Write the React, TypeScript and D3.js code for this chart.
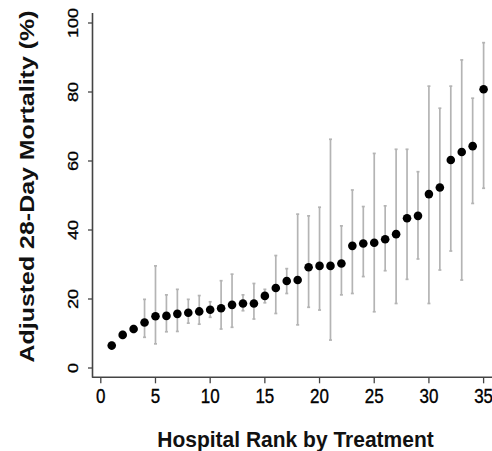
import React from 'react';
import * as d3 from 'd3';

// hospitals ranked 1..35, adjusted mortality with 95% interval
const ranks = d3.range(1, 36);
const mortality = [
  6.5, 9.6, 11.3, 13.2, 15.0, 15.1, 15.7, 16.0, 16.4, 16.9,
  17.3, 18.3, 18.7, 18.7, 20.9, 23.2, 25.2, 25.5, 29.2, 29.6,
  29.6, 30.3, 35.4, 36.1, 36.3, 37.3, 38.8, 43.4, 44.1, 50.4,
  52.3, 60.3, 62.6, 64.3, 80.8
];
const lower = [
  5.5, 8.6, 10.3, 8.9, 7.0, 10.5, 10.6, 13.0, 12.7, 14.7,
  11.3, 11.8, 16.6, 14.2, 18.9, 15.8, 21.6, 12.5, 17.6, 16.8,
  8.1, 21.2, 21.6, 26.5, 16.3, 28.2, 18.7, 25.7, 31.6, 18.7,
  28.4, 33.9, 25.5, 47.7, 52.1
];
const upper = [
  7.5, 10.6, 12.3, 19.9, 29.6, 21.2, 22.8, 19.9, 21.0, 19.2,
  25.3, 27.2, 21.2, 24.5, 22.8, 32.6, 28.8, 44.6, 44.1, 46.6,
  66.3, 41.2, 51.6, 46.8, 62.2, 47.0, 63.4, 63.4, 56.9, 81.7,
  75.3, 81.7, 89.3, 78.2, 94.3
];
const xTicks = [0, 5, 10, 15, 20, 25, 30, 35];
const yTicks = [0, 20, 40, 60, 80, 100];

const width = 492;
const height = 451;

const x = d3.scaleLinear().domain([0, 35]).range([100.8, 483.6]);
const y = d3.scaleLinear().domain([0, 100]).range([368, 23]);

const axisX = 92.5;
const axisY = 377.3;
const font = '"Liberation Sans", Arial, Helvetica, sans-serif';

export default function App() {
  return (
    <svg
      width={width}
      height={height}
      style={{ position: 'absolute', left: 0, top: 0, background: '#fff' }}
      fontFamily={font}
    >
      {/* error bars */}
      {ranks.map((r, i) => (
        <g key={'e' + r} stroke="#b4b4b4" strokeWidth={1.7}>
          <line x1={x(r)} x2={x(r)} y1={y(lower[i])} y2={y(upper[i])} />
          <line x1={x(r) - 1.5} x2={x(r) + 1.5} y1={y(lower[i])} y2={y(lower[i])} />
          <line x1={x(r) - 1.5} x2={x(r) + 1.5} y1={y(upper[i])} y2={y(upper[i])} />
        </g>
      ))}
      {ranks.map((r, i) => (
        <circle key={'p' + r} cx={x(r)} cy={y(mortality[i])} r={4.3} fill="#000" />
      ))}

      {/* axes, L shaped */}
      <path
        d={`M${axisX},13 V${axisY} H${width + 2}`}
        fill="none"
        stroke="#444"
        strokeWidth={1.6}
        strokeLinejoin="round"
      />
      {yTicks.map(t => (
        <g key={'yt' + t}>
          <line x1={axisX - 4.5} x2={axisX} y1={y(t)} y2={y(t)} stroke="#444" strokeWidth={1.3} />
          <text
            transform={`translate(77.5,${y(t)}) rotate(-90) scale(1.25,1)`}
            textAnchor="middle"
            fontSize={14.5}
            fill="#000"
            stroke="#000"
            strokeWidth={0.3}
          >
            {t}
          </text>
        </g>
      ))}
      {xTicks.map(t => (
        <g key={'xt' + t}>
          <line x1={x(t)} x2={x(t)} y1={axisY} y2={axisY + 6} stroke="#444" strokeWidth={1.3} />
          <text
            transform={`translate(${x(t)},402.7) scale(1,1.15)`}
            textAnchor="middle"
            fontSize={17}
            fill="#000"
            stroke="#000"
            strokeWidth={0.3}
          >
            {t}
          </text>
        </g>
      ))}

      <text
        transform="translate(33.5,186.5) rotate(-90)"
        textAnchor="middle"
        fontSize={21}
        fontWeight="bold"
        textLength={352}
        lengthAdjust="spacingAndGlyphs"
        fill="#111"
      >
        Adjusted 28-Day Mortality (%)
      </text>
      <text
        transform="translate(295.5,446.7) scale(1,1.07)"
        textAnchor="middle"
        fontSize={21}
        fontWeight="bold"
        fill="#111"
      >
        Hospital Rank by Treatment
      </text>
    </svg>
  );
}
